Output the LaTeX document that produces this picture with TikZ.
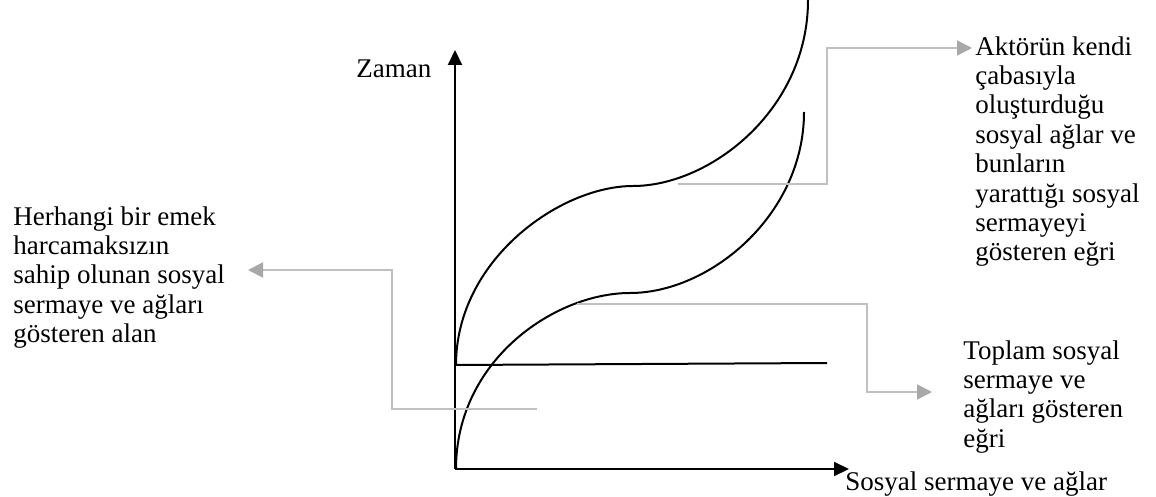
\documentclass[tikz,border=0pt]{standalone}
\usepackage{fontspec}
\setmainfont{Liberation Serif}
\usetikzlibrary{arrows.meta}

\definecolor{pgray}{RGB}{192,192,192}
\definecolor{tipgray}{RGB}{168,168,168}

\begin{document}
\begin{tikzpicture}[
			x=0.5pt, y=-0.5pt,
			label/.style={
				inner sep=0pt,
				align=left,
				font=\fontsize{13.5}{14.7}\selectfont
			},
			curve/.style={
				line width=1pt
			},
			axis/.style={
				-{Triangle[length=7.5pt,width=7pt]},
				line width=1pt
			},
			pointer/.style={
				-{Triangle[length=7.5pt,width=7.5pt,color=tipgray]},
				draw=pgray,
				line width=1pt
			}
			]
			
			\useasboundingbox (0,0) rectangle (1156,497);
			
			% axes
			\coordinate (origin) at (455,469);
			\coordinate (ytop) at (455,50);
			\coordinate (xend) at (849,469);
			\draw [axis] (origin) -- (ytop);
			\draw [axis] (origin) -- (xend);
			
			\node (zaman) [label, anchor=base west] at (356,78) {Zaman};
			\node (xlabel) [label, anchor=base west] at (845,490) {Sosyal sermaye ve ağlar};
			
			% curves
			\coordinate (base0) at (456,365);
			\coordinate (base1) at (827,363);
			\draw [curve] (base0) -- (base1);
			
			\coordinate (upflat) at (633,186);
			\coordinate (uptop) at (808,0);
			\draw [curve] (base0) .. controls (456,260) and (560,186) .. (upflat)
				.. controls (710,186) and (808,110) .. (uptop);
			
			\coordinate (lowstart) at (456,469);
			\coordinate (lowflat) at (630,293);
			\coordinate (lowtop) at (804,112);
			\draw [curve] (lowstart) .. controls (456,360) and (555,293) .. (lowflat)
				.. controls (710,293) and (804,215) .. (lowtop);
			
			% labels
			\node (aktor) [label, anchor=north west] at (975,36) {Aktörün kendi\\çabasıyla\\oluşturduğu\\sosyal ağlar ve\\bunların\\yarattığı sosyal\\sermayeyi\\gösteren eğri};
			\node (toplam) [label, anchor=north west] at (963,340) {Toplam sosyal\\sermaye ve\\ağları gösteren\\eğri};
			\node (alan) [label, anchor=north west] at (13,206) {Herhangi bir emek\\harcamaksızın\\sahip olunan sosyal\\sermaye ve ağları\\gösteren alan};
			
			% pointers
			\coordinate (p1) at (678,184);
			\coordinate (p1end) at (972,48);
			\draw [pointer] (p1) -| (827,48) -- (p1end);
			
			\coordinate (p2) at (577,304);
			\coordinate (p2end) at (932,392);
			\draw [pointer] (p2) -| (867,392) -- (p2end);
			
			\coordinate (p3) at (537,409);
			\coordinate (p3end) at (248,270);
			\draw [pointer] (p3) -| (392,270) -- (p3end);
			
		\end{tikzpicture}
\end{document}
